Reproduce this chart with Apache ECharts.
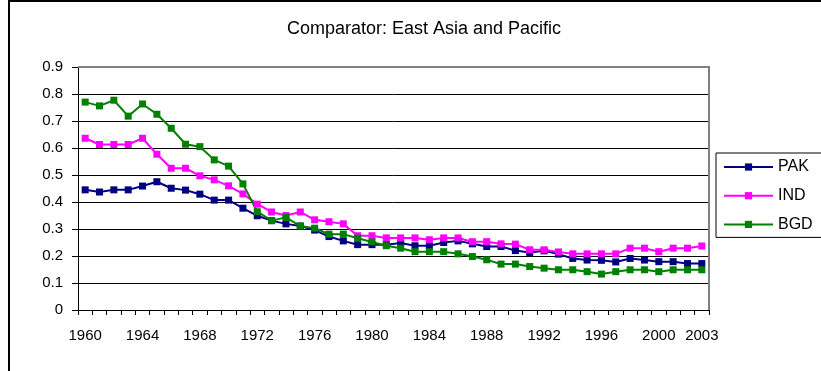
<!DOCTYPE html>
<html>
<head>
<meta charset="utf-8">
<title>Comparator: East Asia and Pacific</title>
<script src="https://cdn.jsdelivr.net/npm/echarts@6/dist/echarts.min.js"></script>
<style>
  html, body { margin: 0; padding: 0; background: #fff; }
  #chart { width: 821px; height: 371px; }
</style>
</head>
<body>
<div id="chart"></div>
<script>
// Years on the category axis
const years = [];
for (let y = 1960; y <= 2003; y++) years.push(String(y));

// Ratio series, one value per year 1960-2003
const pak = [
  0.445, 0.437, 0.445, 0.445, 0.459, 0.475, 0.451, 0.444, 0.429, 0.407,
  0.407, 0.377, 0.349, 0.331, 0.319, 0.311, 0.296, 0.272, 0.256, 0.242,
  0.242, 0.242, 0.248, 0.238, 0.238, 0.250, 0.256, 0.245, 0.235, 0.235,
  0.220, 0.213, 0.219, 0.207, 0.191, 0.185, 0.184, 0.178, 0.191, 0.185,
  0.179, 0.179, 0.172, 0.172
];
const ind = [
  0.636, 0.613, 0.613, 0.613, 0.636, 0.577, 0.525, 0.525, 0.497, 0.482,
  0.460, 0.430, 0.392, 0.363, 0.350, 0.363, 0.334, 0.327, 0.319, 0.275,
  0.275, 0.267, 0.267, 0.267, 0.260, 0.267, 0.267, 0.253, 0.253, 0.245,
  0.244, 0.223, 0.223, 0.215, 0.208, 0.208, 0.208, 0.208, 0.229, 0.229,
  0.216, 0.229, 0.229, 0.237
];
const bgd = [
  0.770, 0.756, 0.777, 0.718, 0.763, 0.725, 0.673, 0.614, 0.605, 0.556,
  0.533, 0.467, 0.364, 0.331, 0.343, 0.311, 0.303, 0.281, 0.281, 0.266,
  0.252, 0.238, 0.229, 0.216, 0.216, 0.216, 0.208, 0.198, 0.186, 0.170,
  0.170, 0.161, 0.155, 0.149, 0.149, 0.142, 0.133, 0.142, 0.149, 0.149,
  0.142, 0.149, 0.149, 0.149
];

// Value axis range
const yMin = 0, yMax = 0.9, yStep = 0.1;

const FONT = 'Arial, "Liberation Sans", sans-serif';

const grid = { left: 78, right: 112, top: 67, bottom: 61 };

function lineSeries(name, data, color) {
  return {
    name: name,
    type: 'line',
    data: data,
    symbol: 'rect',
    symbolSize: 7,
    showSymbol: true,
    lineStyle: { color: color, width: 2 },
    itemStyle: { color: color },
    emphasis: { disabled: true }
  };
}

const chart = echarts.init(document.getElementById('chart'), null, { renderer: 'canvas' });

chart.setOption({
  animation: false,
  backgroundColor: '#ffffff',
  title: {
    text: 'Comparator: East Asia and Pacific',
    left: 419,
    top: 15,
    textAlign: 'center',
    textStyle: { fontFamily: FONT, fontSize: 18, fontWeight: 'normal', color: '#000' }
  },
  legend: {
    orient: 'vertical',
    left: 716,
    top: 153,
    padding: [6, 10, 5, 7],
    itemWidth: 49,
    itemHeight: 9,
    itemGap: 12.7,
    borderColor: '#000',
    borderWidth: 1,
    selectedMode: false,
    textStyle: { fontFamily: FONT, fontSize: 16, color: '#000', lineHeight: 16, padding: [0, 0, 0, 0] },
    data: ['PAK', 'IND', 'BGD']
  },
  grid: grid,
  xAxis: {
    type: 'category',
    data: years,
    boundaryGap: true,
    axisLine: { lineStyle: { color: '#000', width: 1 } },
    axisTick: { show: true, interval: 0, length: 5, lineStyle: { color: '#000' } },
    axisLabel: {
      interval: function (index) { return index % 4 === 0 || index === years.length - 1; },
      margin: 18,
      fontFamily: FONT,
      fontSize: 15,
      color: '#000'
    },
    splitLine: { show: false }
  },
  yAxis: {
    type: 'value',
    min: yMin,
    max: yMax,
    interval: yStep,
    axisLine: { show: true, lineStyle: { color: '#000', width: 1 } },
    axisTick: { show: true, length: 6, lineStyle: { color: '#000' } },
    axisLabel: { margin: 15, fontFamily: FONT, fontSize: 15, color: '#000' },
    splitLine: { show: true, lineStyle: { color: '#000', width: 1 } }
  },
  series: [
    lineSeries('PAK', pak, '#000080'),
    lineSeries('IND', ind, '#ff00ff'),
    lineSeries('BGD', bgd, '#008000')
  ],
  graphic: [
    // outer chart frame
    {
      type: 'rect',
      shape: { x: 9, y: 1, width: 830, height: 400 },
      style: { fill: null, stroke: '#000', lineWidth: 2 },
      z: 100, silent: true
    },
    // plot-area frame (top and right edges)
    {
      type: 'polyline',
      shape: { points: [[78, 67], [709, 67], [709, 310]] },
      style: { fill: null, stroke: '#808080', lineWidth: 2 },
      z: 1, silent: true
    }
  ]
});
</script>
</body>
</html>
